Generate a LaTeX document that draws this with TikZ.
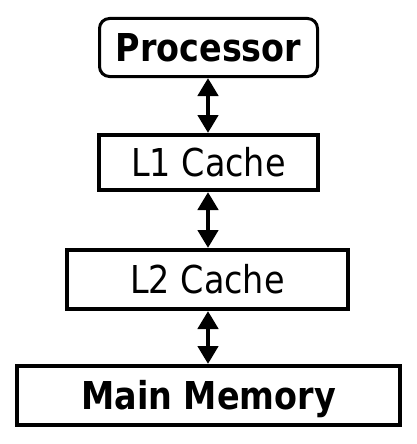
\documentclass[tikz,border=0pt]{standalone}
\usepackage{fontspec}
\usetikzlibrary{arrows.meta}
\newfontfamily\tah[FakeStretch=0.87]{DejaVu Sans}
\begin{document}
\begin{tikzpicture}[x=1pt,y=-1pt,
  box/.style={draw=black, line width=4pt, fill=white, inner sep=0pt, outer sep=0.5\pgflinewidth,
    font=\tah\fontsize{38.4pt}{40pt}\selectfont, text height=28pt, text depth=0pt},
  link/.style={line width=4.5pt, {Triangle[width=20pt,length=18pt]}-{Triangle[width=20pt,length=18pt]}, shorten <=0pt, shorten >=0pt}]
\useasboundingbox (0,0) rectangle (416,444);
\node[box, line width=3pt, rounded corners=10pt, minimum width=218pt, minimum height=58pt] (proc) at (208.5,47.5) {\bfseries Processor};
\node[box, minimum width=219pt, minimum height=55pt] (l1) at (208.5,162.5) {L1 Cache};
\node[box, minimum width=281pt, minimum height=59pt] (l2) at (207.5,279.5) {L2 Cache};
\node[box, minimum width=383pt, minimum height=59pt] (mem) at (208.5,395.5) {\bfseries Main Memory};
\draw[link] (proc.south -| 208,0) -- (l1.north -| 208,0);
\draw[link] (l1.south -| 208,0) -- (l2.north -| 208,0);
\draw[link] (l2.south -| 208,0) -- (mem.north -| 208,0);
\end{tikzpicture}
\end{document}
